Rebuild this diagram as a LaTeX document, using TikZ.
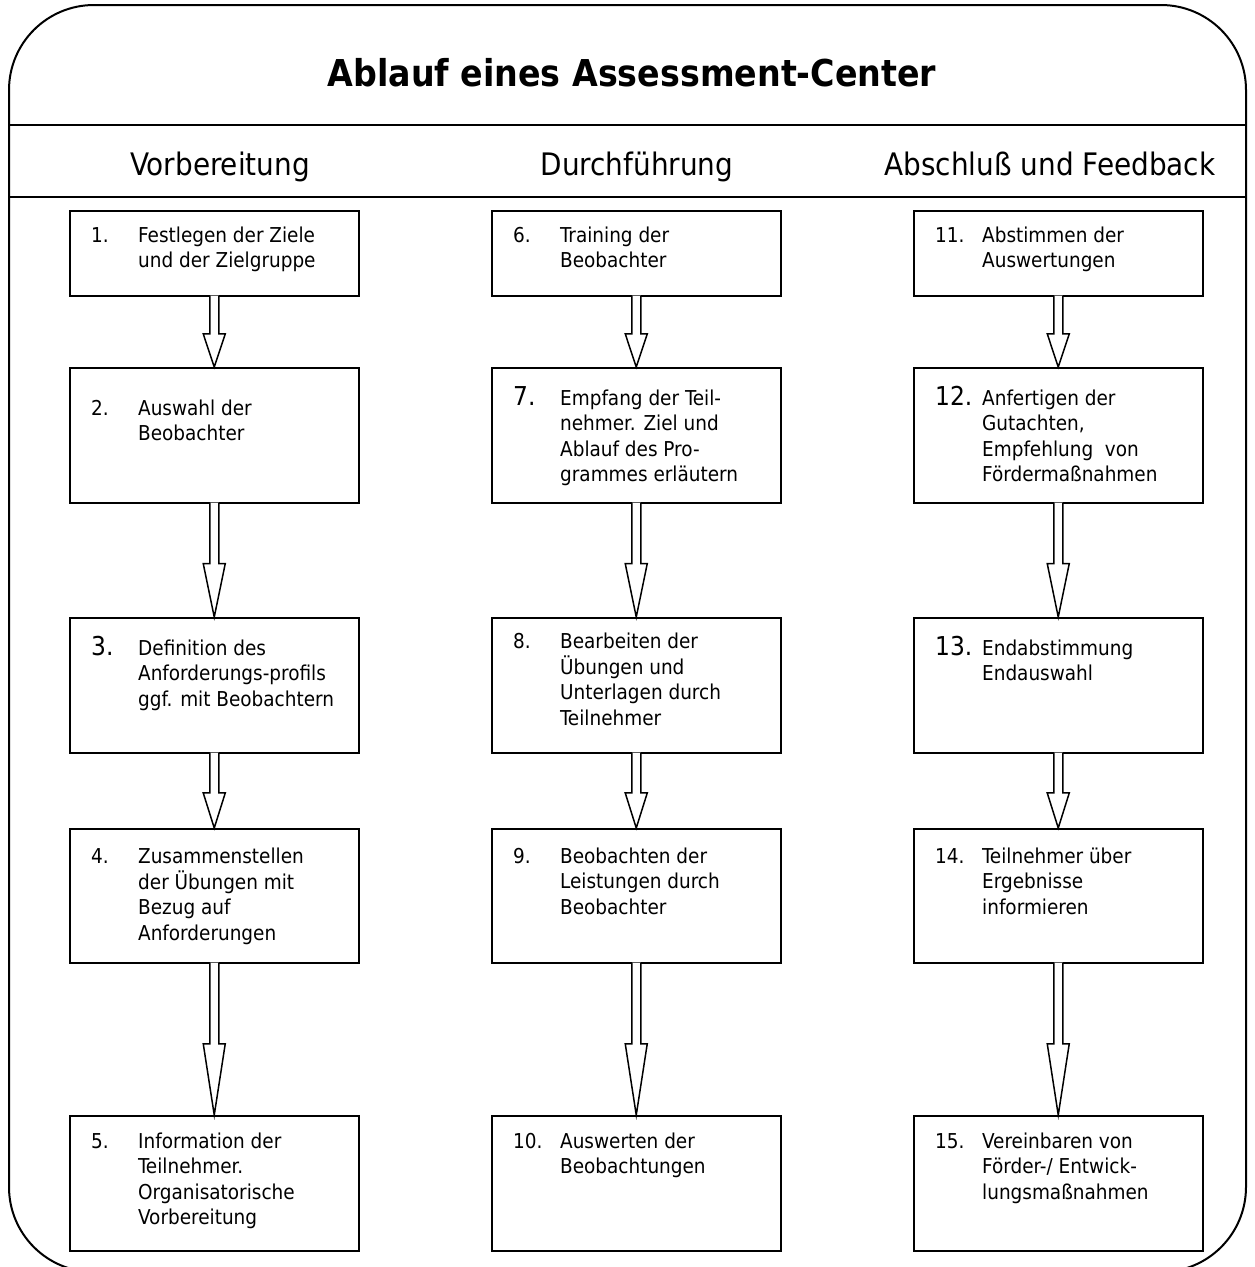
\documentclass[tikz,border=0pt]{standalone}
\usepackage{fontspec}
\setmainfont{DejaVu Sans Condensed}
\usetikzlibrary{calc, positioning}

\tikzset{stepbox/.style={draw, line width=1.5pt, minimum width=289pt, inner sep=0pt, anchor=north west},
  steptext/.style={anchor=base west, inner sep=0pt, font=\fontsize{20.5}{25.5}\selectfont},
  header/.style={anchor=base, inner sep=0pt, font=\fontsize{31}{36}\selectfont},
  blockline/.style={line width=1.5pt, fill=white, line join=miter}}
\newcommand{\bignum}[1]{{\fontsize{26}{26}\selectfont #1}}
\newcommand{\steplines}[2]{\makebox[47pt][l]{#1}\begin{tabular}[t]{@{}l@{}}#2\end{tabular}}
\newcommand{\blockarrow}[2]{%
  \filldraw[blockline] let \p1=(#1.south), \p2=(#2.north), \n1={0.47*(\y1-\y2)} in
    (\x1-4.5pt,\y1+1pt) -- (\x1-4.5pt,{\y2+\n1*1pt}) -- (\x1-11pt,{\y2+\n1*1pt}) -- (\x2,\y2)
    -- (\x1+11pt,{\y2+\n1*1pt}) -- (\x1+4.5pt,{\y2+\n1*1pt}) -- (\x1+4.5pt,\y1+1pt);}

\begin{document}
\begin{tikzpicture}[x=1pt, y=-1pt]
    \clip (0,0) rectangle (1254,1267);

    %Frame
    \draw[line width=2pt, rounded corners=85pt] (9,5) rectangle (1246,1272);
    \draw[line width=2pt] (9,125) -- (1246,125);
    \draw[line width=2pt] (9,197) -- (1246,197);

    %Titles
    \node[anchor=base, inner sep=0pt, font=\bfseries\fontsize{37}{44}\selectfont](title) at (632,86){Ablauf eines Assessment-Center};
    \node[header](prep) at (220,175){Vorbereitung};
    \node[header](exec) at (637,175){Durchführung};
    \node[header](close) at (1050,175){Abschluß und Feedback};

    %Boxes
    \node[stepbox, minimum height=85pt](s1) at (69,210){};
    \node[stepbox, minimum height=135pt](s2) at (69,367){};
    \node[stepbox, minimum height=135pt](s3) at (69,617){};
    \node[stepbox, minimum height=134pt](s4) at (69,828){};
    \node[stepbox, minimum height=135pt](s5) at (69,1115){};
    \node[stepbox, minimum height=85pt](s6) at (491,210){};
    \node[stepbox, minimum height=135pt](s7) at (491,367){};
    \node[stepbox, minimum height=135pt](s8) at (491,617){};
    \node[stepbox, minimum height=134pt](s9) at (491,828){};
    \node[stepbox, minimum height=135pt](s10) at (491,1115){};
    \node[stepbox, minimum height=85pt](s11) at (913,210){};
    \node[stepbox, minimum height=135pt](s12) at (913,367){};
    \node[stepbox, minimum height=135pt](s13) at (913,617){};
    \node[stepbox, minimum height=134pt](s14) at (913,828){};
    \node[stepbox, minimum height=135pt](s15) at (913,1115){};

    %Texts
    \node[steptext](t1) at ($(s1.north west)+(22,32)$){\steplines{1.}{Festlegen der Ziele\\und der Zielgruppe}};
    \node[steptext](t2) at ($(s2.north west)+(22,48)$){\steplines{2.}{Auswahl der\\Beobachter}};
    \node[steptext](t3) at ($(s3.north west)+(22,38)$){\steplines{\bignum{3.}}{Definition des\\Anforderungs-profils\\ggf. mit Beobachtern}};
    \node[steptext](t4) at ($(s4.north west)+(22,35)$){\steplines{4.}{Zusammenstellen\\der Übungen mit\\Bezug auf\\Anforderungen}};
    \node[steptext](t5) at ($(s5.north west)+(22,33)$){\steplines{5.}{Information der\\Teilnehmer.\\Organisatorische\\Vorbereitung}};
    \node[steptext](t6) at ($(s6.north west)+(22,32)$){\steplines{6.}{Training der\\Beobachter}};
    \node[steptext](t7) at ($(s7.north west)+(22,38)$){\steplines{\bignum{7.}}{Empfang der Teil-\\nehmer. Ziel und\\Ablauf des Pro-\\grammes erläutern}};
    \node[steptext](t8) at ($(s8.north west)+(22,31)$){\steplines{8.}{Bearbeiten der\\Übungen und\\Unterlagen durch\\Teilnehmer}};
    \node[steptext](t9) at ($(s9.north west)+(22,35)$){\steplines{9.}{Beobachten der\\Leistungen durch\\Beobachter}};
    \node[steptext](t10) at ($(s10.north west)+(22,33)$){\steplines{10.}{Auswerten der\\Beobachtungen}};
    \node[steptext](t11) at ($(s11.north west)+(22,32)$){\steplines{11.}{Abstimmen der\\Auswertungen}};
    \node[steptext](t12) at ($(s12.north west)+(22,38)$){\steplines{\bignum{12.}}{Anfertigen der\\Gutachten,\\Empfehlung\ \ von\\Fördermaßnahmen}};
    \node[steptext](t13) at ($(s13.north west)+(22,38)$){\steplines{\bignum{13.}}{Endabstimmung\\Endauswahl}};
    \node[steptext](t14) at ($(s14.north west)+(22,35)$){\steplines{14.}{Teilnehmer über\\Ergebnisse\\informieren}};
    \node[steptext](t15) at ($(s15.north west)+(22,33)$){\steplines{15.}{Vereinbaren von\\Förder-/ Entwick-\\lungsmaßnahmen}};

    %Arrows
    \foreach \a/\b in {s1/s2, s2/s3, s3/s4, s4/s5, s6/s7, s7/s8, s8/s9, s9/s10, s11/s12, s12/s13, s13/s14, s14/s15}
        \blockarrow{\a}{\b};

\end{tikzpicture}
\end{document}
